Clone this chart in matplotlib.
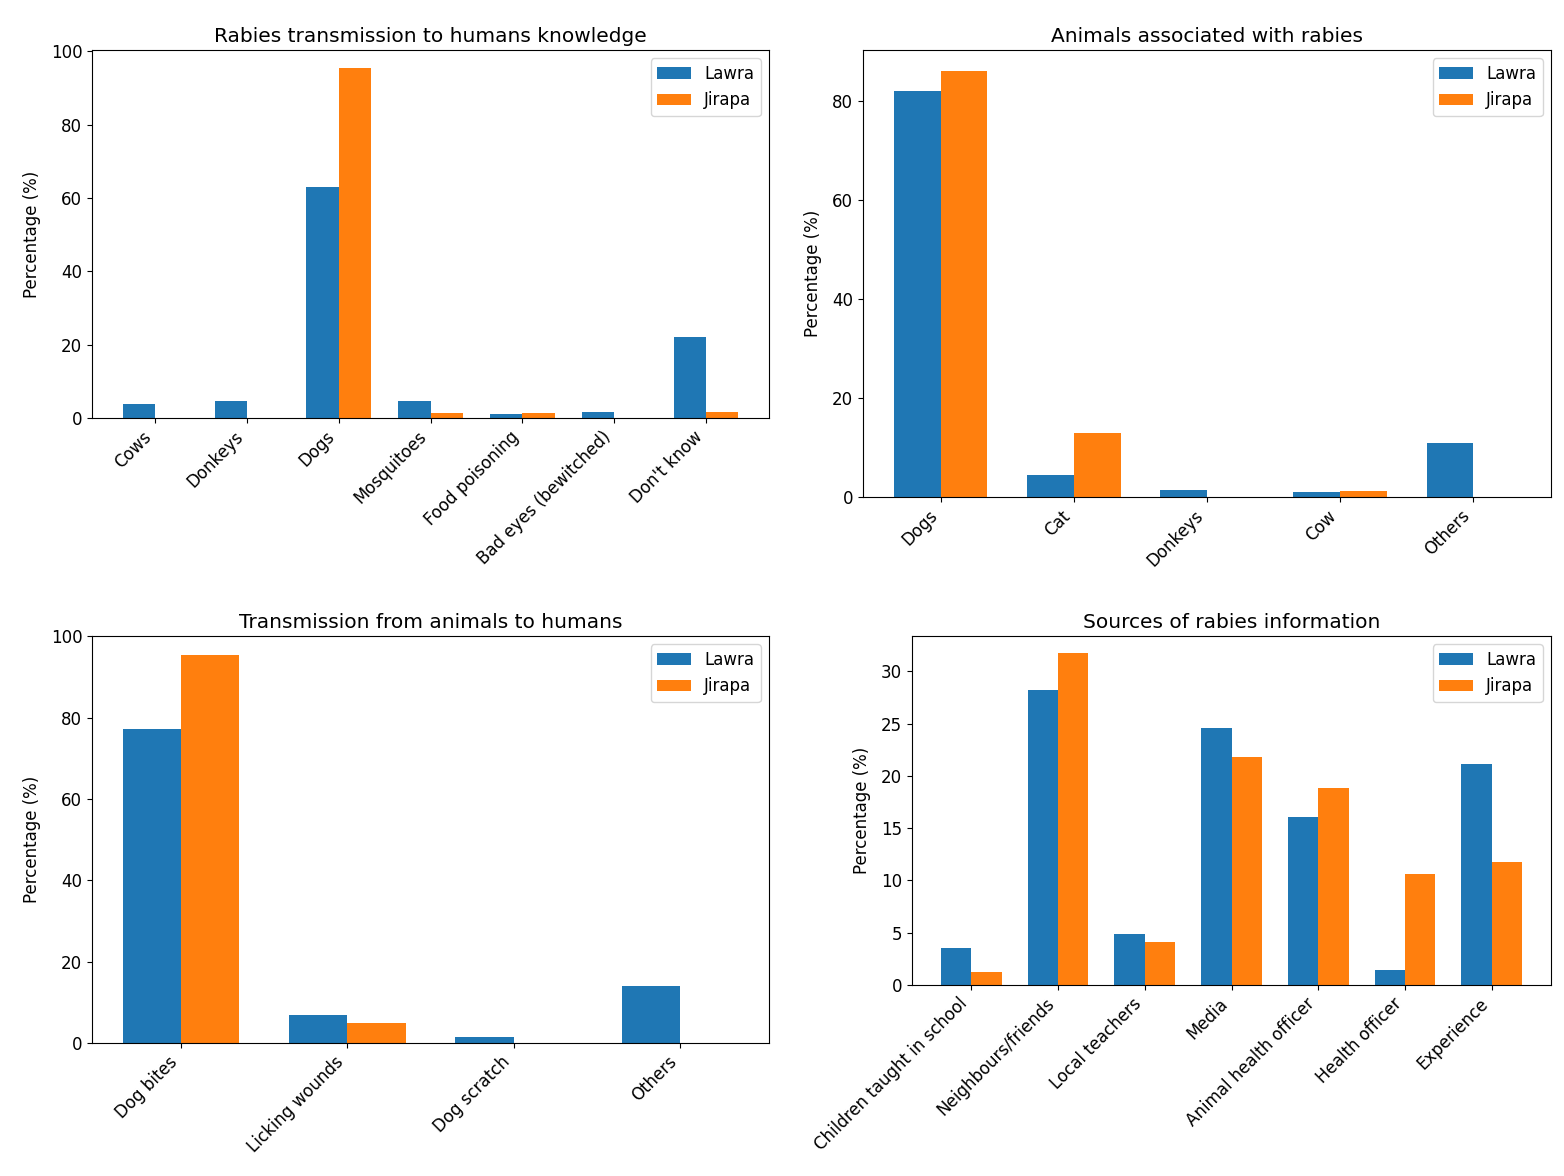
import numpy as np
import matplotlib
matplotlib.use('Agg')
import matplotlib.pyplot as plt

plt.rcParams.update({
    'font.size': 12, 'axes.titlesize': 14.5, 'axes.labelsize': 12,
    'xtick.labelsize': 12, 'ytick.labelsize': 12, 'legend.fontsize': 12,
})

SERIES = ['Lawra', 'Jirapa']

trans_cats = ['Cows', 'Donkeys', 'Dogs', 'Mosquitoes', 'Food poisoning',
              'Bad eyes (bewitched)', "Don't know"]
trans_lawra = [3.7, 4.7, 63.1, 4.7, 1.1, 1.7, 22.1]
trans_jirapa = [0, 0, 95.6, 1.4, 1.4, 0, 1.7]

animal_cats = ['Dogs', 'Cat', 'Donkeys', 'Cow', 'Others']
animal_lawra = [82.1, 4.5, 1.5, 1.0, 10.9]
animal_jirapa = [86.0, 12.9, 0, 1.3, 0]

route_cats = ['Dog bites', 'Licking wounds', 'Dog scratch', 'Others']
route_lawra = [77.3, 6.9, 1.5, 14.1]
route_jirapa = [95.3, 4.8, 0, 0]

source_cats = ['Children taught in school', 'Neighbours/friends', 'Local teachers',
               'Media', 'Animal health officer', 'Health officer', 'Experience']
source_lawra = [3.5, 28.2, 4.9, 24.6, 16.1, 1.4, 21.1]
source_jirapa = [1.2, 31.8, 4.1, 21.8, 18.8, 10.6, 11.8]

PANELS = [
    ('Rabies transmission to humans knowledge', trans_cats, trans_lawra, trans_jirapa),
    ('Animals associated with rabies', animal_cats, animal_lawra, animal_jirapa),
    ('Transmission from animals to humans', route_cats, route_lawra, route_jirapa),
    ('Sources of rabies information', source_cats, source_lawra, source_jirapa),
]

W, H = 1564, 1176
# axes boxes in pixels: left, top, right, bottom
BOXES = [(92, 50, 769, 418), (863, 50, 1551, 497),
         (92, 636, 769, 1043), (912, 636, 1551, 985)]

width = 0.35
fig = plt.figure(figsize=(W / 100, H / 100), dpi=100)

for (l, t, r, b), (title, cats, lawra, jirapa) in zip(BOXES, PANELS):
    ax = fig.add_axes([l / W, 1 - b / H, (r - l) / W, (b - t) / H])
    x = np.arange(len(cats))
    ax.bar(x - width / 2, lawra, width, label=SERIES[0], color='#1f77b4')
    ax.bar(x + width / 2, jirapa, width, label=SERIES[1], color='#ff7f0e')
    ax.set_xticks(x)
    ax.set_xticklabels(cats, rotation=45, ha='right')
    ax.set_ylabel('Percentage (%)', labelpad=7)
    ax.set_title(title)
    ax.legend(loc='upper right')

fig.savefig('out.png')
